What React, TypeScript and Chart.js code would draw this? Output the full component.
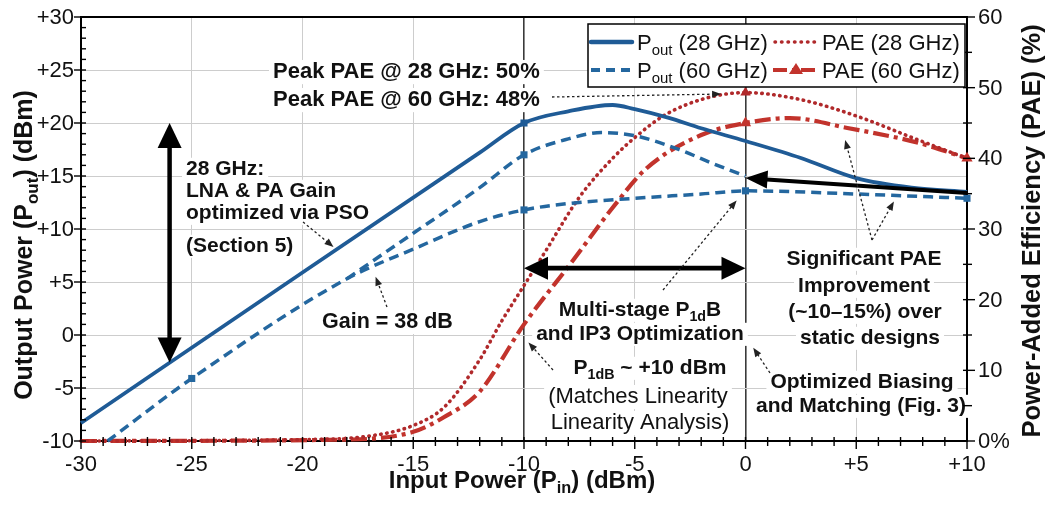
import React, { useEffect, useRef } from 'react';
import { Chart, registerables } from 'chart.js';

Chart.register(...registerables);

const FONT = '"Liberation Sans", Arial, Helvetica, sans-serif';

// ---------------- data ----------------
const xTickValues = [-30, -25, -20, -15, -10, -5, 0, 5, 10];
const xTickLabels = ['-30', '-25', '-20', '-15', '-10', '-5', '0', '+5', '+10'];
const yTickValues = [-10, -5, 0, 5, 10, 15, 20, 25, 30];
const yTickLabels = ['-10', '-5', '0', '+5', '+10', '+15', '+20', '+25', '+30'];
const y2TickValues = [0, 10, 20, 30, 40, 50, 60];
const y2TickLabels = ['0%', '10', '20', '30', '40', '50', '60'];

// Pout (28 GHz), dBm
const pout28Pin = [-30, -20, -12, -10, -8, -6, -5, -3.5, -2, 0, 2.5, 5, 7.5, 10];
const pout28Val = [-8.3, 5.9, 17.2, 20.0, 21.1, 21.7, 21.3, 20.5, 19.5, 18.3, 16.7, 14.8, 13.9, 13.5];
const pout28Markers = [-10];

// Pout (60 GHz), lower branch, dBm
const pout60LowPin = [-28.8, -25, -18, -15, -12, -10, -8, -5, -2, 0, 5, 10];
const pout60LowVal = [-10, -4.1, 5.3, 8.1, 10.7, 11.8, 12.4, 12.9, 13.3, 13.6, 13.3, 12.9];
const pout60LowMarkers = [-25, -10, 0, 10];

// Pout (60 GHz), upper branch, dBm
const pout60HighPin = [-18, -15, -12, -10, -8, -6.5, -5, -3, -1.5, 0];
const pout60HighVal = [5.3, 9.6, 13.9, 17.0, 18.5, 19.1, 18.8, 17.5, 16.2, 15.0];
const pout60HighMarkers = [-10];

// PAE (28 GHz), %
const pae28Pin = [-30, -20, -17, -15, -13.6, -12, -11, -10, -9, -7.5, -6, -4.9, -3.6, -1.8, 0, 2.5, 5, 7.8, 10];
const pae28Val = [0, 0.2, 0.7, 2.2, 4.8, 11.5, 17, 22, 27, 34.5, 40, 43.2, 46.2, 48.5, 49.3, 48.3, 46, 42.6, 40];
const pae28Markers = [0];

// PAE (60 GHz), %
const pae60Pin = [-30, -18, -15, -13.6, -12, -10, -7.8, -6, -4.5, -2, 0, 2, 4.6, 7.8, 10];
const pae60Val = [0, 0.2, 1.3, 3.4, 7.0, 16.5, 25.5, 33, 38.5, 43.3, 45, 45.7, 44.3, 42.2, 40];
const pae60Markers = [0, 10];

// ---------------- styles ----------------
const BLUE = '#1f5b96';
const BLUE_D = '#24679f';
const RED_DOT = '#b0292b';
const RED_DD = '#c2332c';
const INK = '#111111';

type Part = { t: string; sub?: boolean };

const pts = (xs: number[], ys: number[]) => xs.map((x, i) => ({ x, y: ys[i] }));
const radii = (xs: number[], marks: number[], r: number) => xs.map((x) => (marks.includes(x) ? r : 0));

function setFont(ctx: CanvasRenderingContext2D, size: number, bold: boolean) {
  ctx.font = `${bold ? 'bold ' : ''}${size}px ${FONT}`;
}
function measureRich(ctx: CanvasRenderingContext2D, parts: Part[], size: number, bold: boolean) {
  let w = 0;
  for (const p of parts) {
    setFont(ctx, p.sub ? size * 0.68 : size, bold);
    w += ctx.measureText(p.t).width;
  }
  return w;
}
function drawRich(
  ctx: CanvasRenderingContext2D,
  parts: Part[],
  x: number,
  y: number,
  size: number,
  bold: boolean,
  align: 'left' | 'center' | 'right',
  bg = false
) {
  const w = measureRich(ctx, parts, size, bold);
  let sx = align === 'center' ? x - w / 2 : align === 'right' ? x - w : x;
  if (bg) {
    ctx.fillStyle = '#ffffff';
    ctx.fillRect(sx - 4, y - size * 0.82, w + 8, size * 1.1);
  }
  ctx.fillStyle = INK;
  ctx.textAlign = 'left';
  ctx.textBaseline = 'alphabetic';
  for (const p of parts) {
    const s = p.sub ? size * 0.68 : size;
    setFont(ctx, s, bold);
    ctx.fillText(p.t, sx, p.sub ? y + size * 0.22 : y);
    sx += ctx.measureText(p.t).width;
  }
}

function head(ctx: CanvasRenderingContext2D, x: number, y: number, ang: number, hl: number, hw: number) {
  const bx = x - Math.cos(ang) * hl;
  const by = y - Math.sin(ang) * hl;
  const px = -Math.sin(ang) * hw / 2;
  const py = Math.cos(ang) * hw / 2;
  ctx.beginPath();
  ctx.moveTo(x, y);
  ctx.lineTo(bx + px, by + py);
  ctx.lineTo(bx - px, by - py);
  ctx.closePath();
  ctx.fill();
}

function thickArrow(
  ctx: CanvasRenderingContext2D,
  x1: number, y1: number, x2: number, y2: number,
  lw: number, hl: number, hw: number, both: boolean
) {
  const ang = Math.atan2(y2 - y1, x2 - x1);
  const ux = Math.cos(ang), uy = Math.sin(ang);
  ctx.save();
  ctx.strokeStyle = '#000';
  ctx.fillStyle = '#000';
  ctx.lineWidth = lw;
  ctx.setLineDash([]);
  ctx.beginPath();
  ctx.moveTo(both ? x1 + ux * hl * 0.8 : x1, both ? y1 + uy * hl * 0.8 : y1);
  ctx.lineTo(x2 - ux * hl * 0.8, y2 - uy * hl * 0.8);
  ctx.stroke();
  head(ctx, x2, y2, ang, hl, hw);
  if (both) head(ctx, x1, y1, ang + Math.PI, hl, hw);
  ctx.restore();
}

function leader(ctx: CanvasRenderingContext2D, x1: number, y1: number, x2: number, y2: number) {
  const ang = Math.atan2(y2 - y1, x2 - x1);
  ctx.save();
  ctx.strokeStyle = '#222';
  ctx.fillStyle = '#222';
  ctx.lineWidth = 1.3;
  ctx.setLineDash([2.5, 2.5]);
  ctx.beginPath();
  ctx.moveTo(x1, y1);
  ctx.lineTo(x2 - Math.cos(ang) * 6, y2 - Math.sin(ang) * 6);
  ctx.stroke();
  ctx.setLineDash([]);
  head(ctx, x2, y2, ang, 9, 7);
  ctx.restore();
}

// ---------------- annotation layout ----------------
type Note = { parts: Part[]; x: number; y: number; size: number; bold: boolean; align: 'left' | 'center' };
const notes: Note[] = [
  { parts: [{ t: 'Peak PAE @ 28 GHz: 50%' }], x: 273, y: 78, size: 22, bold: true, align: 'left' },
  { parts: [{ t: 'Peak PAE @ 60 GHz: 48%' }], x: 273, y: 106, size: 22, bold: true, align: 'left' },
  { parts: [{ t: '28 GHz:' }], x: 186, y: 175, size: 21, bold: true, align: 'left' },
  { parts: [{ t: 'LNA & PA Gain' }], x: 186, y: 197, size: 21, bold: true, align: 'left' },
  { parts: [{ t: 'optimized via PSO' }], x: 186, y: 219, size: 21, bold: true, align: 'left' },
  { parts: [{ t: '(Section 5)' }], x: 186, y: 252, size: 21, bold: true, align: 'left' },
  { parts: [{ t: 'Gain = 38 dB' }], x: 322, y: 328, size: 21.5, bold: true, align: 'left' },
  { parts: [{ t: 'Multi-stage P' }, { t: '1d', sub: true }, { t: 'B' }], x: 640, y: 316, size: 21, bold: true, align: 'center' },
  { parts: [{ t: 'and IP3 Optimization' }], x: 640, y: 340, size: 21, bold: true, align: 'center' },
  { parts: [{ t: 'P' }, { t: '1dB', sub: true }, { t: ' ~ +10 dBm' }], x: 650, y: 374, size: 21, bold: true, align: 'center' },
  { parts: [{ t: '(Matches Linearity' }], x: 638, y: 403, size: 22, bold: false, align: 'center' },
  { parts: [{ t: 'Linearity Analysis)' }], x: 640, y: 429, size: 22, bold: false, align: 'center' },
  { parts: [{ t: 'Significant PAE' }], x: 864, y: 265, size: 21, bold: true, align: 'center' },
  { parts: [{ t: 'Improvement' }], x: 864, y: 292, size: 21, bold: true, align: 'center' },
  { parts: [{ t: '(~10\u201315%) over' }], x: 865, y: 318, size: 21, bold: true, align: 'center' },
  { parts: [{ t: 'static designs' }], x: 870, y: 344, size: 21, bold: true, align: 'center' },
  { parts: [{ t: 'Optimized Biasing' }], x: 862, y: 388, size: 21, bold: true, align: 'center' },
  { parts: [{ t: 'and Matching (Fig. 3)' }], x: 861, y: 412, size: 21, bold: true, align: 'center' },
];

// leaders: tail in pixels, head in data coordinates
type Leader = { tx: number; ty: number; hx: number; hy: number; axis: 'y' | 'y1' };
const leaders: Leader[] = [
  { tx: 552, ty: 97, hx: -1.1, hy: 49.1, axis: 'y1' },
  { tx: 303, ty: 222, hx: -18.6, hy: 8.3, axis: 'y' },
  { tx: 387, ty: 307, hx: -16.7, hy: 5.5, axis: 'y' },
  { tx: 663, ty: 290, hx: -0.4, hy: 12.7, axis: 'y' },
  { tx: 553, ty: 370, hx: -9.8, hy: -0.7, axis: 'y' },
  { tx: 770, ty: 373, hx: 0.35, hy: -1.2, axis: 'y' },
  { tx: 872, ty: 240, hx: 4.5, hy: 42.6, axis: 'y1' },
  { tx: 872, ty: 240, hx: 6.7, hy: 12.6, axis: 'y' },
];

const overlay = {
  id: 'overlay',
  beforeDatasetsDraw(chart: any) {
    const ctx: CanvasRenderingContext2D = chart.ctx;
    ctx.save();
    for (const n of notes) drawRich(ctx, n.parts, n.x, n.y, n.size, n.bold, n.align, true);
    ctx.restore();
  },
  afterDatasetsDraw(chart: any) {
    const ctx: CanvasRenderingContext2D = chart.ctx;
    const X = (v: number) => chart.scales.x.getPixelForValue(v);
    const YL = (v: number) => chart.scales.y.getPixelForValue(v);
    const YR = (v: number) => chart.scales.y1.getPixelForValue(v);
    // big arrows
    thickArrow(ctx, X(-26), YL(20), X(-26), YL(-2.6), 4.5, 25, 24, true);
    thickArrow(ctx, X(-10), YL(6.3), X(0), YL(6.3), 4.8, 24, 23, true);
    thickArrow(ctx, X(10), YL(13.4), X(0), YL(14.8), 4, 22, 18, false);
    for (const l of leaders) {
      leader(ctx, l.tx, l.ty, X(l.hx), l.axis === 'y' ? YL(l.hy) : YR(l.hy));
    }
  },
  afterDraw(chart: any) {
    const ctx: CanvasRenderingContext2D = chart.ctx;
    const ca = chart.chartArea;
    const sx = chart.scales.x, sy = chart.scales.y, sy2 = chart.scales.y1;
    ctx.save();
    // top border
    ctx.strokeStyle = '#000';
    ctx.lineWidth = 2;
    ctx.beginPath();
    ctx.moveTo(ca.left - 1, ca.top);
    ctx.lineTo(ca.right + 1, ca.top);
    ctx.stroke();
    // minor ticks
    ctx.lineWidth = 1.4;
    for (let v = -30; v <= 10; v++) {
      const p = sx.getPixelForValue(v);
      const major = v % 5 === 0;
      ctx.beginPath();
      ctx.moveTo(p, ca.bottom - 4);
      ctx.lineTo(p, ca.bottom + (major ? 8 : 5));
      ctx.stroke();
    }
    for (let v = -10; v <= 30; v++) {
      const p = sy.getPixelForValue(v);
      const major = v % 5 === 0;
      ctx.beginPath();
      ctx.moveTo(ca.left - (major ? 7 : 0), p);
      ctx.lineTo(ca.left + 5, p);
      ctx.stroke();
    }
    for (let v = 0; v <= 60; v += 5) {
      const p = sy2.getPixelForValue(v);
      const major = v % 10 === 0;
      ctx.beginPath();
      ctx.moveTo(ca.right - 4, p);
      ctx.lineTo(ca.right + (major ? 8 : 5), p);
      ctx.stroke();
    }
    // tick labels
    ctx.fillStyle = INK;
    setFont(ctx, 22, false);
    ctx.textBaseline = 'alphabetic';
    ctx.textAlign = 'center';
    xTickValues.forEach((v, i) => ctx.fillText(xTickLabels[i], sx.getPixelForValue(v), 471));
    ctx.textAlign = 'right';
    ctx.textBaseline = 'middle';
    yTickValues.forEach((v, i) => ctx.fillText(yTickLabels[i], ca.left - 7, sy.getPixelForValue(v) + 1));
    ctx.textAlign = 'left';
    y2TickValues.forEach((v, i) => ctx.fillText(y2TickLabels[i], ca.right + 11, sy2.getPixelForValue(v) + 1));
    // axis titles
    drawRich(ctx, [{ t: 'Input Power (' }, { t: 'P' }, { t: 'in', sub: true }, { t: ') (dBm)' }], 522, 488, 24, true, 'center');
    ctx.save();
    ctx.translate(32, 245);
    ctx.rotate(-Math.PI / 2);
    drawRich(ctx, [{ t: 'Output Power (' }, { t: 'P' }, { t: 'out', sub: true }, { t: ') (dBm)' }], 0, 0, 25, true, 'center');
    ctx.restore();
    ctx.save();
    ctx.translate(1040, 231);
    ctx.rotate(-Math.PI / 2);
    drawRich(ctx, [{ t: 'Power-Added Efficiency (PAE) (%)' }], 0, 0, 25.5, true, 'center');
    ctx.restore();
    // legend
    ctx.fillStyle = '#fff';
    ctx.fillRect(588, 24, 377, 63);
    ctx.strokeStyle = '#000';
    ctx.lineWidth = 1.5;
    ctx.strokeRect(588, 24, 377, 63);
    const sample = (x1: number, x2: number, y: number, color: string, w: number, dash: number[], cap: CanvasLineCap) => {
      ctx.save();
      ctx.strokeStyle = color;
      ctx.lineWidth = w;
      ctx.setLineDash(dash);
      ctx.lineCap = cap;
      ctx.beginPath();
      ctx.moveTo(x1, y);
      ctx.lineTo(x2, y);
      ctx.stroke();
      ctx.restore();
    };
    sample(591, 632, 42, BLUE, 4.5, [], 'round');
    sample(591, 632, 70, BLUE_D, 4, [9, 6], 'butt');
    sample(775, 818, 42, RED_DOT, 3.5, [0.5, 6], 'round');
    sample(773, 818, 70, RED_DD, 4, [14, 5, 4, 5], 'butt');
    ctx.fillStyle = RED_DD;
    ctx.beginPath();
    ctx.moveTo(796, 63);
    ctx.lineTo(803, 74);
    ctx.lineTo(789, 74);
    ctx.closePath();
    ctx.fill();
    drawRich(ctx, [{ t: 'P' }, { t: 'out', sub: true }, { t: ' (28 GHz)' }], 637, 50, 22, false, 'left');
    drawRich(ctx, [{ t: 'P' }, { t: 'out', sub: true }, { t: ' (60 GHz)' }], 637, 78, 22, false, 'left');
    drawRich(ctx, [{ t: 'PAE (28 GHz)' }], 822, 50, 22, false, 'left');
    drawRich(ctx, [{ t: 'PAE (60 GHz)' }], 822, 78, 22, false, 'left');
    ctx.restore();
  },
};

export default function App() {
  const ref = useRef<HTMLCanvasElement | null>(null);
  useEffect(() => {
    if (!ref.current) return;
    const common = { cubicInterpolationMode: 'monotone' as const, fill: false, clip: 6, pointBorderWidth: 0 };
    const chart = new Chart(ref.current, {
      type: 'line',
      data: {
        datasets: [
          {
            ...common,
            label: 'Pout (28 GHz)',
            data: pts(pout28Pin, pout28Val),
            yAxisID: 'y',
            borderColor: BLUE,
            backgroundColor: BLUE,
            borderWidth: 3.8,
            pointStyle: 'rect',
            pointRadius: radii(pout28Pin, pout28Markers, 5),
          },
          {
            ...common,
            label: 'Pout (60 GHz)',
            data: pts(pout60HighPin, pout60HighVal),
            yAxisID: 'y',
            borderColor: BLUE_D,
            backgroundColor: BLUE_D,
            borderWidth: 3.5,
            borderDash: [10, 6],
            pointStyle: 'rect',
            pointRadius: radii(pout60HighPin, pout60HighMarkers, 5),
          },
          {
            ...common,
            label: 'Pout (60 GHz) low',
            data: pts(pout60LowPin, pout60LowVal),
            yAxisID: 'y',
            borderColor: BLUE_D,
            backgroundColor: BLUE_D,
            borderWidth: 3.5,
            borderDash: [10, 6],
            pointStyle: 'rect',
            pointRadius: radii(pout60LowPin, pout60LowMarkers, 5),
          },
          {
            ...common,
            label: 'PAE (28 GHz)',
            data: pts(pae28Pin, pae28Val),
            yAxisID: 'y1',
            borderColor: RED_DOT,
            backgroundColor: RED_DOT,
            borderWidth: 3.6,
            borderDash: [0.5, 5.5],
            borderCapStyle: 'round',
            pointStyle: 'triangle',
            pointRadius: radii(pae28Pin, pae28Markers, 6),
          },
          {
            ...common,
            label: 'PAE (60 GHz)',
            data: pts(pae60Pin, pae60Val),
            yAxisID: 'y1',
            borderColor: RED_DD,
            backgroundColor: RED_DD,
            borderWidth: 4.2,
            borderDash: [16, 5, 4, 5],
            pointStyle: 'triangle',
            pointRadius: radii(pae60Pin, pae60Markers, 6.5),
          },
        ],
      },
      options: {
        responsive: false,
        devicePixelRatio: 1,
        animation: false,
        events: [],
        layout: { padding: { top: 17, left: 0, right: 0, bottom: 0 } },
        plugins: { legend: { display: false }, tooltip: { enabled: false }, title: { display: false } },
        scales: {
          x: {
            type: 'linear',
            min: -30,
            max: 10,
            afterFit: (s: any) => { s.height = 65; },
            afterBuildTicks: (s: any) => { s.ticks = xTickValues.map((v) => ({ value: v })); },
            ticks: { display: false },
            grid: {
              drawTicks: false,
              color: (c: any) => (c.tick && (c.tick.value === -10 || c.tick.value === 0) ? '#3a3a3a' : '#cdcdcd'),
              lineWidth: (c: any) => (c.tick && (c.tick.value === -10 || c.tick.value === 0) ? 1.6 : 1),
            },
            border: { color: '#000', width: 2 },
          },
          y: {
            type: 'linear',
            position: 'left',
            min: -10,
            max: 30,
            afterFit: (s: any) => { s.width = 81; },
            afterBuildTicks: (s: any) => { s.ticks = yTickValues.map((v) => ({ value: v })); },
            ticks: { display: false },
            grid: { drawTicks: false, color: '#cdcdcd', lineWidth: 1 },
            border: { color: '#000', width: 2 },
          },
          y1: {
            type: 'linear',
            position: 'right',
            min: 0,
            max: 60,
            afterFit: (s: any) => { s.width = 81; },
            afterBuildTicks: (s: any) => { s.ticks = y2TickValues.map((v) => ({ value: v })); },
            ticks: { display: false },
            grid: { drawOnChartArea: false, drawTicks: false },
            border: { color: '#000', width: 2 },
          },
        },
      },
      plugins: [overlay],
    } as any);
    return () => chart.destroy();
  }, []);
  return (
    <div style={{ position: 'absolute', left: 0, top: 0, width: 1048, height: 506, background: '#fff' }}>
      <canvas ref={ref} width={1048} height={506} style={{ display: 'block' }} />
    </div>
  );
}
